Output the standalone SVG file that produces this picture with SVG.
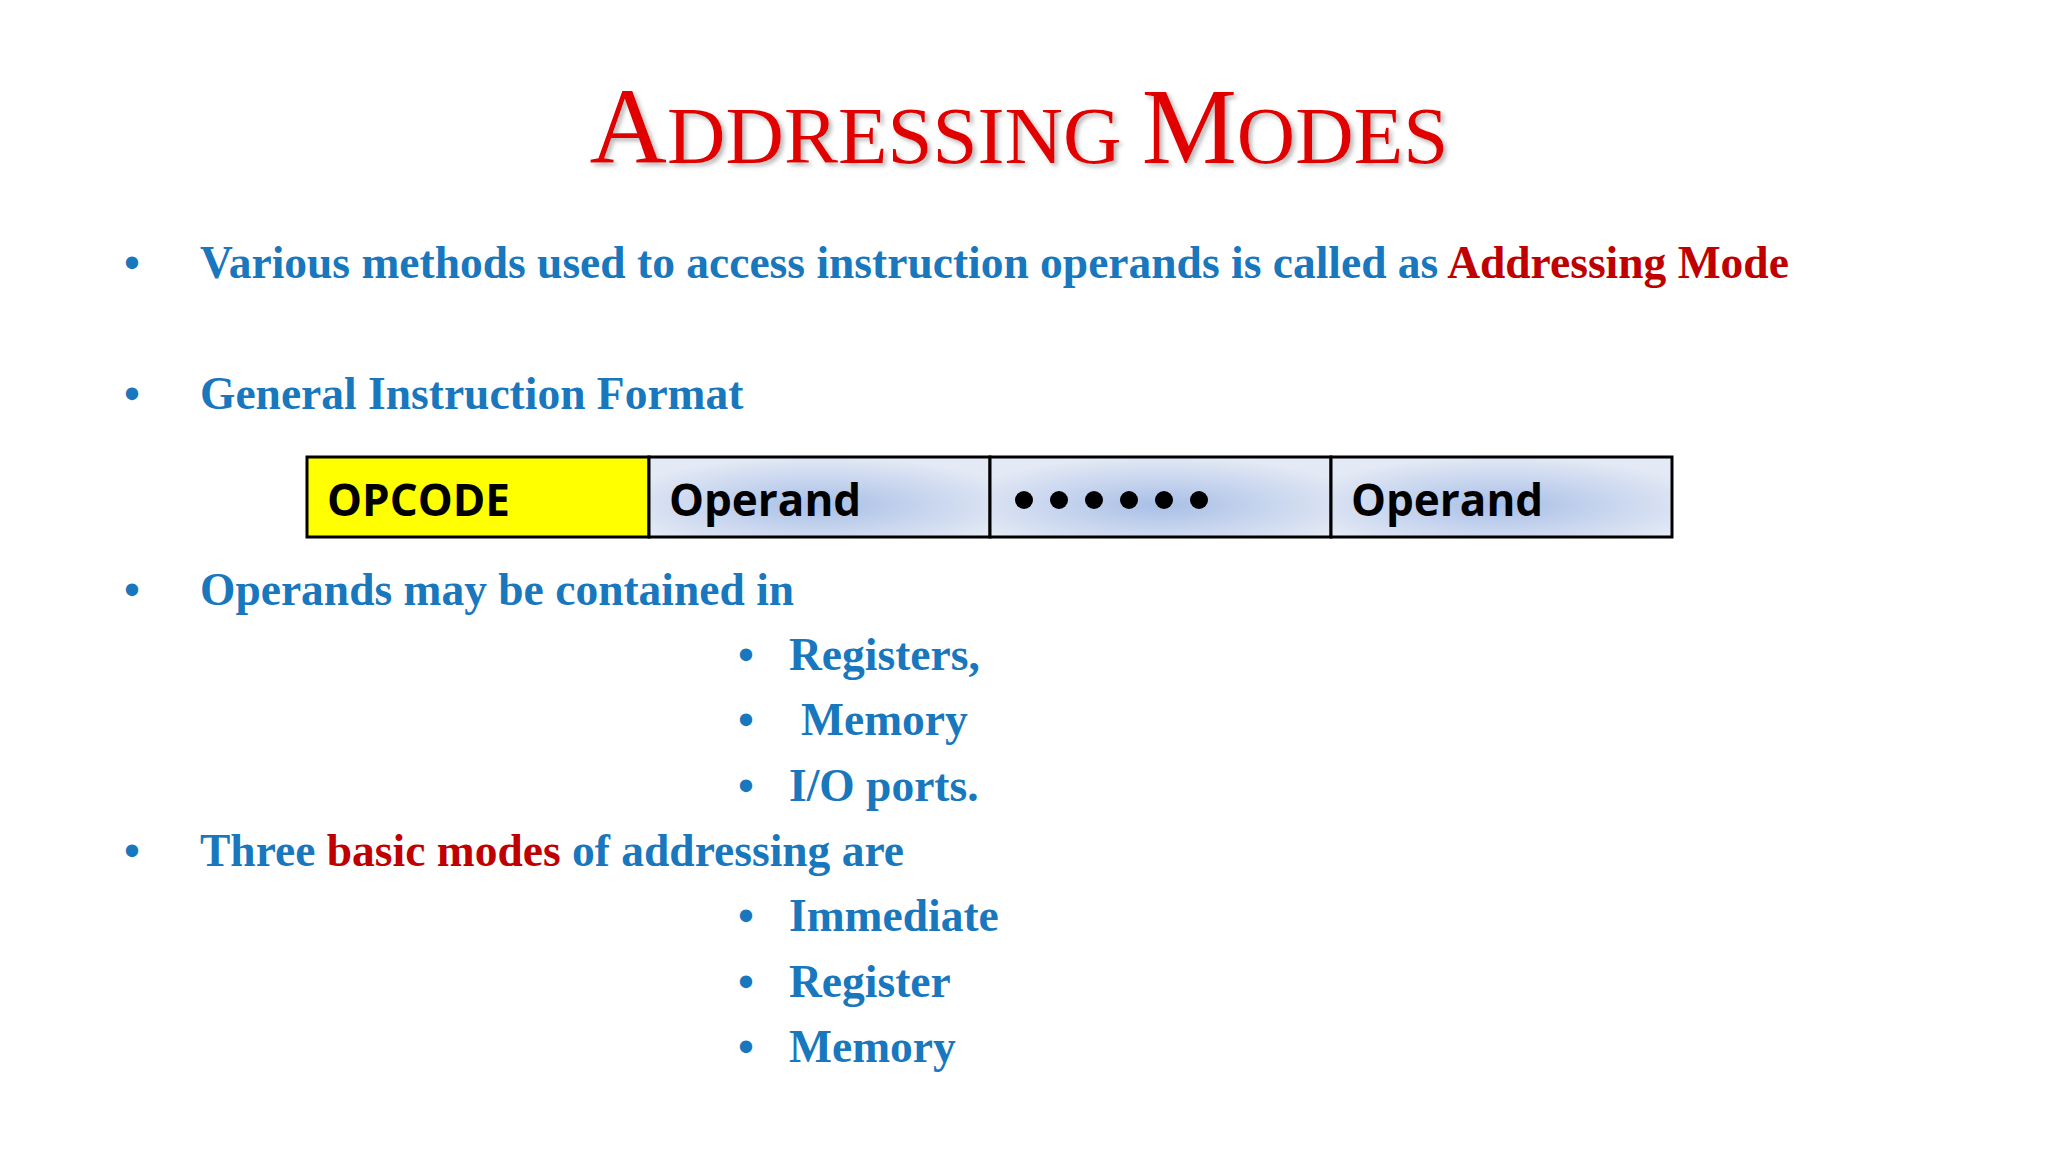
<svg xmlns="http://www.w3.org/2000/svg" width="2048" height="1152" viewBox="0 0 2048 1152">
<defs>
<style>
.t{font-family:"Liberation Serif",serif;font-weight:bold;font-size:45.5px;fill:#1877bd}
.r{fill:#c00000}
.c{font-family:"Open Sans","Noto Sans",sans-serif;font-weight:bold;font-size:44px;fill:#000}
.cell{stroke:#000;stroke-width:3}
</style>
<radialGradient id="g" cx="0.5" cy="0.6" r="0.6">
<stop offset="0" stop-color="#a9bfe6"/><stop offset="1" stop-color="#e3e9f5"/>
</radialGradient>
<filter id="sh"><feDropShadow dx="3" dy="3" stdDeviation="2" flood-color="#888" flood-opacity="0.6"/></filter>
</defs>
<rect width="2048" height="1152" fill="#fff"/>
<text x="1019" y="163" text-anchor="middle" font-family="Liberation Serif,serif" fill="#e00000" filter="url(#sh)"><tspan font-size="107">A</tspan><tspan font-size="81">DDRESSING </tspan><tspan font-size="107">M</tspan><tspan font-size="81">ODES</tspan></text>
<g class="t">
<text x="124" y="278">•</text><text x="200" y="278">Various methods used to access instruction operands is called as <tspan class="r">Addressing Mode</tspan></text>
<text x="124" y="409">•</text><text x="200" y="409">General Instruction Format</text>
<text x="124" y="605">•</text><text x="200" y="605">Operands may be contained in</text>
<text x="738" y="670">•</text><text x="789" y="670">Registers,</text>
<text x="738" y="735">•</text><text x="801" y="735">Memory</text>
<text x="738" y="801">•</text><text x="789" y="801">I/O ports.</text>
<text x="124" y="866">•</text><text x="200" y="866">Three <tspan class="r">basic modes</tspan> of addressing are</text>
<text x="738" y="931">•</text><text x="789" y="931">Immediate</text>
<text x="738" y="997">•</text><text x="789" y="997">Register</text>
<text x="738" y="1062">•</text><text x="789" y="1062">Memory</text>
</g>
<g id="opcode"><rect class="cell" x="307" y="457" width="342" height="80" fill="#ffff00"/><text class="c" x="327" y="516">OPCODE</text></g>
<g id="operand1"><rect class="cell" x="649" y="457" width="341" height="80" fill="url(#g)"/><text class="c" x="669" y="516">Operand</text></g>
<g id="dots"><rect class="cell" x="990" y="457" width="341" height="80" fill="url(#g)"/><g fill="#000"><circle cx="1024" cy="500" r="9"/><circle cx="1059" cy="500" r="9"/><circle cx="1094" cy="500" r="9"/><circle cx="1129" cy="500" r="9"/><circle cx="1164" cy="500" r="9"/><circle cx="1199" cy="500" r="9"/></g></g>
<g id="operand2"><rect class="cell" x="1331" y="457" width="341" height="80" fill="url(#g)"/><text class="c" x="1351" y="516">Operand</text></g>
<g id="connectors"/>
</svg>
